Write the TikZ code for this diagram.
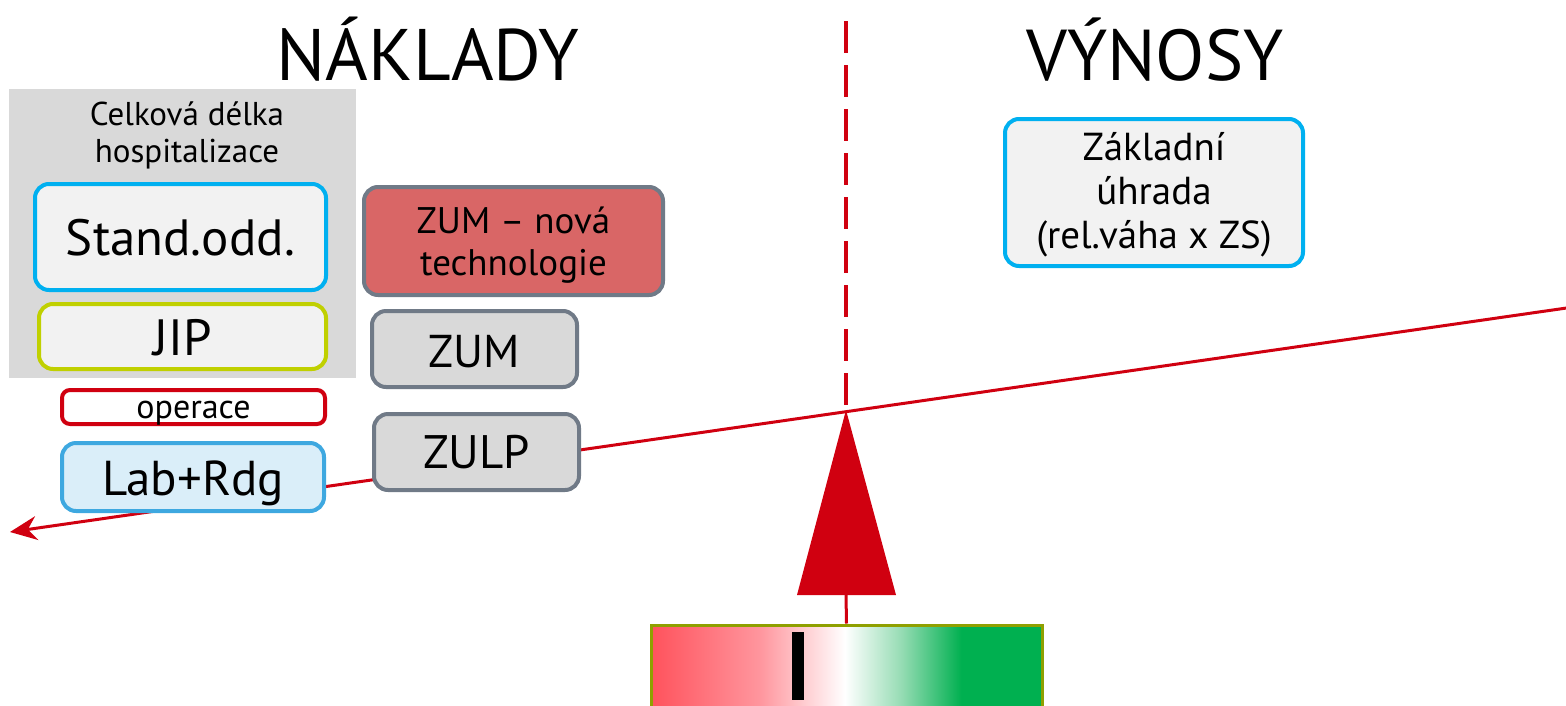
\documentclass[tikz,border=0pt]{standalone}
\usepackage{fontspec}
\setmainfont{PT Sans}
\usetikzlibrary{arrows.meta}
\definecolor{cred}{RGB}{208,0,16}
\definecolor{cblue}{RGB}{0,176,240}
\definecolor{clblue}{RGB}{62,168,224}
\definecolor{clbfill}{RGB}{218,238,249}
\definecolor{cyg}{RGB}{192,208,0}
\definecolor{cgray}{RGB}{217,217,217}
\definecolor{cwhite}{RGB}{242,242,242}
\definecolor{cslate}{RGB}{112,122,135}
\definecolor{crose}{RGB}{217,102,102}
\definecolor{colive}{RGB}{143,160,0}
\definecolor{bred}{RGB}{255,82,92}
\definecolor{bpink}{RGB}{255,150,158}
\definecolor{bwhite}{RGB}{255,255,255}
\definecolor{bmint}{RGB}{150,220,180}
\definecolor{bgreen}{RGB}{0,176,80}
\pgfdeclarehorizontalshading{barshade}{100bp}{
  color(0bp)=(bred);
  color(25bp)=(bred);
  color(39bp)=(bpink);
  color(49.8bp)=(bwhite);
  color(57bp)=(bmint);
  color(64.7bp)=(bgreen);
  color(100bp)=(bgreen)}
\tikzset{
  fs/.style={font=\fontsize{#1}{#1}\selectfont},
  th/.style={text height=#1, text depth=0pt},
  rbox/.style={draw, rounded corners=14pt, line width=4pt, align=center, inner sep=0pt},
  redline/.style={draw=cred, line width=3pt}
}
\begin{document}
\begin{tikzpicture}[x=1pt,y=-1pt]
\useasboundingbox (0,0) rectangle (1566,705);
% titles
\node[font=\fontsize{73}{80}\selectfont, anchor=base] (tn) at (428,80) {NÁKLADY};
\node[font=\fontsize{72}{80}\selectfont, anchor=base] (tv) at (1155,80) {VÝNOSY};
% gray panel
\node[fill=cgray, minimum width=347pt, minimum height=289pt, inner sep=0pt] (hosp) at (182.5,233.5) {};
\node[font=\fontsize{33}{37}\selectfont, align=center, anchor=base] (hosptxt) at (187,162) {Celková délka\\hospitalizace};
% dashed centre line
\coordinate (dtop) at (846,21);
\coordinate (apex) at (846,410);
\draw[cred, line width=3.3pt, dash pattern=on 32pt off 12pt] (dtop) -- (apex);
% lever line
\coordinate (lineR) at (1570,307.5);
\coordinate (lineL) at (10,532);
\draw[redline, -{Stealth[length=27pt,width=24pt,inset=9pt]}] (lineR) -- (lineL);
% triangle
\coordinate (bl) at (797,595);
\coordinate (br) at (896,595);
\fill[cred] (apex) -- (br) -- (bl) -- cycle;
\coordinate (tbase) at (846,595);
% bar
\node[draw=colive, line width=3pt, shading=barshade, minimum width=391pt, minimum height=82pt, inner sep=0pt] (bar) at (846.5,666) {};
\draw[redline] (tbase) -- (bar.north);
\node[fill=black, minimum width=12pt, minimum height=68pt, inner sep=0pt] (mark) at (798,666) {};
% left boxes
\node[rbox, draw=cblue, fill=cwhite, minimum width=291pt, minimum height=106pt, fs=51, th=36pt] (stand) at (180.5,237) {Stand.odd.};
\node[rbox, draw=cyg, fill=cwhite, minimum width=287pt, minimum height=65pt, fs=51, th=37pt] (jip) at (182.5,336.5) {JIP};
\node[rbox, rounded corners=8pt, draw=cred, fill=white, minimum width=263pt, minimum height=34pt, fs=34, th=22pt] (oper) at (193.5,407) {operace};
\node[rbox, draw=clblue, fill=clbfill, minimum width=262pt, minimum height=68pt, fs=49, th=36pt] (lab) at (193,477) {Lab+Rdg};
% middle boxes
\node[rbox, draw=cslate, fill=crose, minimum width=299pt, minimum height=108pt, font=\fontsize{37}{42}\selectfont, th=68pt] (zumn) at (513.5,241) {ZUM – nová\\technologie};
\node[rbox, draw=cslate, fill=cgray, minimum width=205pt, minimum height=76pt, fs=46, th=36pt] (zum) at (474.5,349) {ZUM};
\node[rbox, draw=cslate, fill=cgray, minimum width=205pt, minimum height=76pt, fs=47, th=32pt] (zulp) at (476.5,452) {ZULP};
% right box
\node[rbox, draw=cblue, fill=cwhite, minimum width=298pt, minimum height=147pt, font=\fontsize{39}{44}\selectfont, th=111pt] (zakl) at (1154,192.5) {Základní\\úhrada\\(rel.váha x ZS)};
\end{tikzpicture}
\end{document}
